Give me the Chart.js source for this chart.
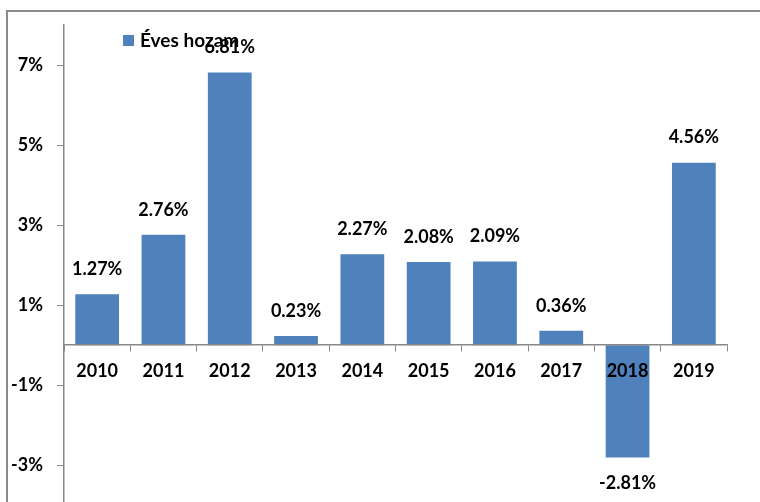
<!DOCTYPE html>
<html lang="hu">
<head>
<meta charset="UTF-8">
<title>Éves hozam</title>
<script src="https://cdn.jsdelivr.net/npm/chart.js"></script>
<style>
    html, body { margin: 0; padding: 0; background: #fff; overflow: hidden; }
    #wrap { width: 760px; height: 502px; }
</style>
</head>
<body>
<div id="wrap"><canvas id="chart"></canvas></div>
<script>
const years = ['2010', '2011', '2012', '2013', '2014', '2015', '2016', '2017', '2018', '2019'];
const returns = [1.27, 2.76, 6.81, 0.23, 2.27, 2.08, 2.09, 0.36, -2.81, 4.56];
const yTicks = [-3, -1, 1, 3, 5, 7];
const seriesName = 'Éves hozam';

const FONT = 'Lato, "Liberation Sans", sans-serif';
const BLUE = '#4F81BD';

// frame, legend and value labels
const extras = {
    id: 'extras',
    afterDatasetsDraw(chart) {
        const ctx = chart.ctx;
        const meta = chart.getDatasetMeta(0);
        ctx.save();
        ctx.font = 'bold 18px ' + FONT;
        ctx.fillStyle = '#000';
        ctx.textAlign = 'center';
        ctx.textBaseline = 'middle';
        meta.data.forEach((bar, i) => {
            const v = returns[i];
            const y = v >= 0 ? bar.y - 25 : bar.y + 26;
            ctx.fillText(v.toFixed(2) + '%', bar.x, y);
        });
        ctx.restore();
    },
    afterDraw(chart) {
        const ctx = chart.ctx;
        ctx.save();
        // outer frame
        ctx.strokeStyle = '#8c8c8c';
        ctx.lineWidth = 2;
        ctx.beginPath();
        ctx.moveTo(7, chart.height + 5);
        ctx.lineTo(7, 11);
        ctx.lineTo(chart.width + 5, 11);
        ctx.stroke();
        // legend
        ctx.fillStyle = BLUE;
        ctx.fillRect(123, 35, 11, 11);
        ctx.fillStyle = '#000';
        ctx.font = 'bold 19px ' + FONT;
        ctx.textAlign = 'left';
        ctx.textBaseline = 'middle';
        ctx.fillText(seriesName, 140, 41);
        ctx.restore();
    }
};

new Chart(document.getElementById('chart'), {
    type: 'bar',
    data: {
        labels: years,
        datasets: [{
            label: seriesName,
            data: returns,
            backgroundColor: BLUE,
            borderWidth: 0,
            barPercentage: 0.66,
            categoryPercentage: 1
        }]
    },
    options: {
        responsive: true,
        maintainAspectRatio: false,
        animation: false,
        layout: { padding: { left: 0, right: 33, top: 25, bottom: 0 } },
        plugins: {
            legend: { display: false },
            tooltip: { enabled: false }
        },
        scales: {
            x: {
                position: { y: 0 },
                afterFit(scale) {
                    scale.height = 0;
                    scale.paddingTop = 0;
                    scale.paddingBottom = 0;
                },
                grid: {
                    display: true,
                    drawOnChartArea: false,
                    drawTicks: true,
                    tickLength: 6,
                    color: '#888',
                    offset: true,
                    z: 1
                },
                border: { display: true, color: '#888', width: 1.5, z: 1 },
                ticks: {
                    color: '#000',
                    font: { family: FONT, size: 18, weight: 'bold' },
                    padding: 9,
                    z: 1
                }
            },
            y: {
                min: -3.92,
                max: 8,
                afterBuildTicks(scale) {
                    scale.ticks = yTicks.map(v => ({ value: v }));
                },
                afterFit(scale) {
                    scale.width = 64;
                    scale.paddingTop = 0;
                    scale.paddingBottom = 0;
                },
                grid: {
                    display: true,
                    drawOnChartArea: false,
                    drawTicks: true,
                    tickLength: 7,
                    color: '#888'
                },
                border: { display: true, color: '#888', width: 1.5 },
                ticks: {
                    color: '#000',
                    font: { family: FONT, size: 18, weight: 'bold' },
                    padding: 14,
                    callback: v => v + '%'
                }
            }
        }
    },
    plugins: [extras]
});
</script>
</body>
</html>
